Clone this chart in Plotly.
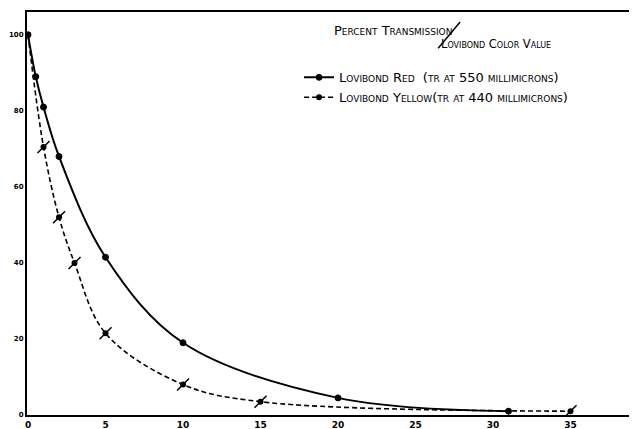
import plotly.graph_objects as go

# Data
red_x = [0, 0.5, 1, 2, 5, 10, 20, 31]
red_y = [100, 89, 81, 68, 41.5, 19, 4.5, 1]
yellow_x = [0, 1, 2, 3, 5, 10, 15, 35]
yellow_y = [100, 70.5, 52, 40, 21.5, 8, 3.5, 1]

x_ticks = [0, 5, 10, 15, 20, 25, 30, 35]
y_ticks = [0, 20, 40, 60, 80, 100]

FONT = "DejaVu Sans"

fig = go.Figure()
fig.add_trace(go.Scatter(
    x=red_x, y=red_y, mode="lines+markers",
    name="Lovibond Red  (tr at 550 millimicrons)",
    line=dict(color="black", width=2, shape="spline"),
    marker=dict(symbol="circle", size=6, color="black",
                line=dict(color="black", width=1)),
))
fig.add_trace(go.Scatter(
    x=yellow_x, y=yellow_y, mode="lines+markers",
    name="Lovibond Yellow(tr at 440 millimicrons)",
    line=dict(color="black", width=1.6, dash="5px,3px", shape="spline"),
    marker=dict(symbol="circle", size=6, color="black"),
))
# slash through yellow markers
fig.add_trace(go.Scatter(
    x=yellow_x[1:], y=yellow_y[1:], mode="markers", showlegend=False,
    marker=dict(symbol="line-ne-open", size=12, color="black",
                line=dict(color="black", width=1.5)),
    hoverinfo="skip",
))

# title block
fig.add_annotation(xref="paper", yref="paper", x=0.50, y=0.955,
                   text="Percent Transmission", showarrow=False,
                   xanchor="left", yanchor="middle",
                   font=dict(family=FONT, size=13, color="black", variant="small-caps"))
fig.add_shape(type="line", xref="paper", yref="paper",
              x0=0.674, y0=0.91, x1=0.710, y1=0.975,
              line=dict(color="black", width=1.5))
fig.add_annotation(xref="paper", yref="paper", x=0.676, y=0.92,
                   text="Lovibond Color Value", showarrow=False,
                   xanchor="left", yanchor="middle",
                   font=dict(family=FONT, size=11.5, color="black", variant="small-caps"))

# the page body adds an 8px offset; figure is sized so that it fits the window
fig.update_layout(
    width=629, height=421,
    margin=dict(l=19, r=0, t=4, b=14, autoexpand=False),
    paper_bgcolor="white", plot_bgcolor="white",
    showlegend=True,
    legend=dict(x=0.446, y=0.875, xanchor="left", yanchor="top",
                bgcolor="rgba(0,0,0,0)", borderwidth=0,
                font=dict(family=FONT, size=13, color="black", variant="small-caps"),
                tracegroupgap=2),
    xaxis=dict(range=[-0.065, 39.29], tickvals=x_ticks,
               ticktext=[str(v) for v in x_ticks],
               showgrid=False, zeroline=False, showline=True,
               linecolor="black", linewidth=2, mirror=True, ticks="",
               ticklabelstandoff=0, automargin=False,
               tickfont=dict(family=FONT, size=9, color="black", weight="bold")),
    yaxis=dict(range=[0, 106], tickvals=y_ticks,
               ticktext=[str(v) for v in y_ticks],
               showgrid=False, zeroline=False, showline=True,
               linecolor="black", linewidth=2, mirror=False, ticks="",
               ticklabelstandoff=0, automargin=False,
               tickfont=dict(family=FONT, size=7, color="black", weight="bold")),
)

fig.write_html("out.html")
